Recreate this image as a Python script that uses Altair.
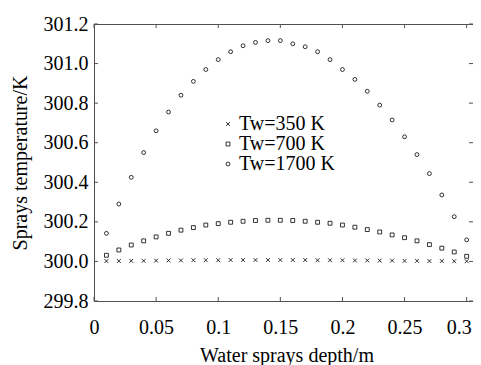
import altair as alt
import pandas as pd

depth = [0.01, 0.02, 0.03, 0.04, 0.05, 0.06, 0.07, 0.08, 0.09, 0.10,
         0.11, 0.12, 0.13, 0.14, 0.15, 0.16, 0.17, 0.18, 0.19, 0.20,
         0.21, 0.22, 0.23, 0.24, 0.25, 0.26, 0.27, 0.28, 0.29, 0.30]

t350 = [300.002, 300.002, 300.003, 300.003, 300.004, 300.005, 300.005, 300.006, 300.006, 300.006,
        300.007, 300.007, 300.007, 300.007, 300.007, 300.007, 300.007, 300.006, 300.006, 300.006,
        300.005, 300.005, 300.004, 300.004, 300.003, 300.003, 300.002, 300.002, 300.001, 300.001]

t700 = [300.031, 300.058, 300.083, 300.104, 300.124, 300.142, 300.158, 300.171, 300.184, 300.191,
        300.198, 300.203, 300.207, 300.208, 300.208, 300.207, 300.203, 300.198, 300.193, 300.184,
        300.173, 300.161, 300.149, 300.134, 300.120, 300.104, 300.085, 300.067, 300.048, 300.026]

t1700 = [300.142, 300.290, 300.425, 300.550, 300.660, 300.755, 300.840, 300.910, 300.970, 301.020,
         301.060, 301.090, 301.107, 301.116, 301.116, 301.100, 301.085, 301.060, 301.020, 300.970,
         300.920, 300.860, 300.790, 300.715, 300.630, 300.540, 300.444, 300.336, 300.226, 300.109]

series_names = ["Tw=350 K", "Tw=700 K", "Tw=1700 K"]
x_ticks = [0, 0.05, 0.1, 0.15, 0.2, 0.25, 0.3]
y_ticks = [299.8, 300.0, 300.2, 300.4, 300.6, 300.8, 301.0, 301.2]

rows = []
for name, vals in zip(series_names, [t350, t700, t1700]):
    for d, v in zip(depth, vals):
        rows.append({"depth": d, "temp": v, "series": name})
df = pd.DataFrame(rows)
xt = pd.DataFrame({"depth": x_ticks})
yt = pd.DataFrame({"temp": y_ticks})

W, H = 379, 277
FONT = "Liberation Serif"
TL = 4

xscale = alt.Scale(domain=[0, 0.3051], nice=False, zero=False)
yscale = alt.Scale(domain=[299.8, 301.2], nice=False, zero=False)

xaxis = alt.Axis(values=x_ticks, format="~g", title="Water sprays depth/m",
                 domain=False, ticks=False, tickSize=0, grid=False,
                 labelOverlap=False,
                 labelFont=FONT, labelFontSize=20, labelColor="black",
                 labelBaseline="alphabetic", labelPadding=32, labelFlush=False,
                 labelOffset={"condition": {"test": "datum.value >= 0.3", "value": -8}, "value": 0},
                 titleFont=FONT, titleFontSize=20, titleFontWeight="normal", titleColor="black",
                 titleBaseline="alphabetic", titleX=W / 2 + 3, titleY=60)
yaxis = alt.Axis(values=y_ticks, format=".1f", title="Sprays temperature/K",
                 domain=False, ticks=False, tickSize=0, grid=False,
                 labelOverlap=False,
                 labelFont=FONT, labelFontSize=20, labelColor="black",
                 labelBaseline="middle", labelPadding=6, labelFlush=False,
                 titleFont=FONT, titleFontSize=20, titleFontWeight="normal", titleColor="black",
                 titleBaseline="alphabetic", titleX=-68, titleY=H / 2, titleAngle=270)

xpath = "M-1,-1L1,1M-1,1L1,-1"

points = alt.Chart(df).mark_point(filled=False, strokeWidth=0.8, opacity=1, size=15).encode(
    x=alt.X("depth:Q", scale=xscale, axis=xaxis, title="Water sprays depth/m"),
    y=alt.Y("temp:Q", scale=yscale, axis=yaxis, title="Sprays temperature/K"),
    shape=alt.Shape("series:N",
                    scale=alt.Scale(domain=series_names, range=[xpath, "square", "circle"]),
                    legend=alt.Legend(title=None, orient="none", legendX=124, legendY=90,
                                      labelFont=FONT, labelFontSize=20, labelColor="black",
                                      labelOffset=1, padding=0, rowPadding=-2,
                                      symbolStrokeColor="black", symbolFillColor="transparent",
                                      symbolStrokeWidth=0.8, symbolSize=15)),
    color=alt.value("black"),
)

tick_col = "#505050"
bottom = alt.Chart(xt).mark_rule(color=tick_col, strokeWidth=1).encode(
    x=alt.X("depth:Q", scale=xscale, axis=xaxis, title="Water sprays depth/m"),
    y=alt.value(H), y2=alt.value(H - TL))
top = alt.Chart(xt).mark_rule(color=tick_col, strokeWidth=1).encode(
    x=alt.X("depth:Q", scale=xscale, axis=xaxis, title="Water sprays depth/m"),
    y=alt.value(0), y2=alt.value(TL))
left = alt.Chart(yt).mark_rule(color=tick_col, strokeWidth=1).encode(
    y=alt.Y("temp:Q", scale=yscale, axis=yaxis, title="Sprays temperature/K"),
    x=alt.value(0), x2=alt.value(TL))
right = alt.Chart(yt).mark_rule(color=tick_col, strokeWidth=1).encode(
    y=alt.Y("temp:Q", scale=yscale, axis=yaxis, title="Sprays temperature/K"),
    x=alt.value(W), x2=alt.value(W - TL))

chart = alt.layer(points, bottom, top, left, right).properties(
    width=W, height=H,
    autosize=alt.AutoSizeParams(type="none"),
    padding={"left": 86, "top": 16, "right": 0, "bottom": 64},
    background="white",
).configure(
    font=FONT
).configure_view(
    stroke=tick_col, strokeWidth=1
).configure_axis(
    labelFont=FONT, titleFont=FONT
)

chart.save("out.html", embed_options={"renderer": "svg", "actions": False})
